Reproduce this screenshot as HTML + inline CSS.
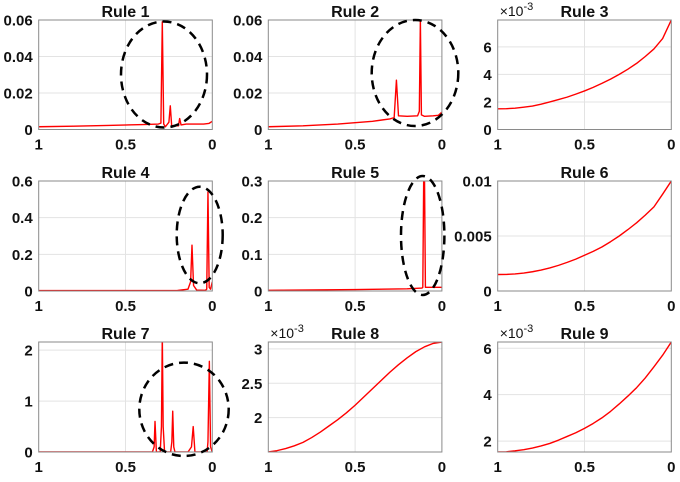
<!DOCTYPE html>
<html><head><meta charset="utf-8"><style>
body{margin:0;background:#fff}
svg{display:block;font-family:"Liberation Sans",Arial,sans-serif}
.tk{font-size:15px;font-weight:bold;fill:#111}
.tt{font-size:16px;font-weight:bold;fill:#111}
</style></head><body>
<svg id="fig" width="680" height="482" viewBox="0 0 680 482" xmlns="http://www.w3.org/2000/svg"></svg>
<script>
const xTicks=[1,0.5,0];
const xTickLabels=["1","0.5","0"];
const r1x=[1,.8,.6,.4,.31,.296,.288,.28,.27,.25,.242,.234,.22,.195,.188,.18,.15,.05,.02,0];
const r1y=[.0015,.0018,.0022,.0027,.003,.0035,.059,.003,.0015,.004,.013,.002,.002,.002,.006,.0025,.003,.003,.0033,.0045];
const r2x=[1,.8,.6,.4,.3,.275,.262,.25,.2,.14,.13,.124,.118,.1,.05,.02,0];
const r2y=[.0015,.002,.003,.0045,.0058,.0065,.027,.0075,.0072,.0075,.01,.06,.008,.0072,.0075,.0078,.0095];
const smoothX=[1,.95,.9,.85,.8,.75,.7,.65,.6,.55,.5,.45,.4,.35,.3,.25,.2,.15,.1,.05,0];
const r3y=[1.5,1.51,1.55,1.62,1.7,1.84,2.0,2.17,2.35,2.57,2.8,3.06,3.35,3.66,4.0,4.38,4.8,5.3,5.85,6.6,7.95];
const r4x=[1,.5,.2,.14,.125,.117,.108,.09,.04,.032,.025,.018,.01,0];
const r4y=[.002,.002,.003,.01,.05,.25,.03,.005,.004,.01,.54,.02,.01,.05];
const r5x=[1,.5,.2,.115,.11,.105,.1,.095,.05,0];
const r5y=[.002,.004,.006,.008,.01,.3,.3,.01,.01,.01];
const r6y=[1.5,1.51,1.55,1.63,1.75,1.9,2.1,2.33,2.6,2.9,3.25,3.6,4.0,4.48,5.0,5.58,6.2,6.9,7.65,8.8,10];
const r7x=[1,.5,.345,.335,.33,.322,.3,.293,.288,.283,.275,.24,.233,.228,.222,.215,.14,.12,.11,.1,.03,.025,.017,.01,0];
const r7y=[0,0,0,.1,.6,0,0,.5,2.3,.5,0,0,.2,.8,.1,0,0,.1,.5,0,0,.2,1.78,.1,0];
const r8y=[1.5,1.52,1.55,1.59,1.64,1.71,1.79,1.88,1.97,2.07,2.18,2.3,2.42,2.54,2.66,2.77,2.87,2.96,3.03,3.08,3.1];
const r9y=[1.53,1.54,1.58,1.63,1.7,1.79,1.9,2.04,2.2,2.36,2.55,2.76,3.0,3.28,3.6,3.94,4.3,4.72,5.2,5.7,6.27];

const NS="http://www.w3.org/2000/svg";
const svg=document.getElementById('fig');
const colsL=[38.7,268.3,497.7], W=173.6;
const rowsT=[20,181,342], rowsB=[129.5,291,452];
function mk(tag,attrs,parent){const e=document.createElementNS(NS,tag);for(const k in attrs)e.setAttribute(k,attrs[k]);(parent||svg).appendChild(e);return e;}
const panels=[
 {t:"Rule 1",xs:r1x,ys:r1y,yl:[0,0.06],yt:[0,.02,.04,.06],ytl:["0","0.02","0.04","0.06"],ell:[164,74.5,43,53]},
 {t:"Rule 2",xs:r2x,ys:r2y,yl:[0,0.06],yt:[0,.02,.04,.06],ytl:["0","0.02","0.04","0.06"],ell:[415,73,43.3,53]},
 {t:"Rule 3",xs:smoothX,ys:r3y,yl:[0,7.95],yt:[0,2,4,6],ytl:["0","2","4","6"],exp:true},
 {t:"Rule 4",xs:r4x,ys:r4y,yl:[0,0.6],yt:[0,.2,.4,.6],ytl:["0","0.2","0.4","0.6"],ell:[199.7,235,23,48.3]},
 {t:"Rule 5",xs:r5x,ys:r5y,yl:[0,0.3],yt:[0,.1,.2,.3],ytl:["0","0.1","0.2","0.3"],ell:[422.7,235.5,21.7,59.5]},
 {t:"Rule 6",xs:smoothX,ys:r6y,yl:[0,10],yt:[0,5,10],ytl:["0","0.005","0.01"]},
 {t:"Rule 7",xs:r7x,ys:r7y,yl:[0,2.16],yt:[0,1,2],ytl:["0","1","2"],ell:[184,409.3,44.7,46.7]},
 {t:"Rule 8",xs:smoothX,ys:r8y,yl:[1.5,3.1],yt:[2,2.5,3],ytl:["2","2.5","3"],exp:true},
 {t:"Rule 9",xs:smoothX,ys:r9y,yl:[1.53,6.27],yt:[2,4,6],ytl:["2","4","6"],exp:true}
];
panels.forEach((p,i)=>{
 const L=colsL[i%3],T=rowsT[Math.floor(i/3)],B=rowsB[Math.floor(i/3)],R=L+W;
 const g=mk('g',{});
 
 
 const sx=v=>L+(1-v)*W;
 const sy=v=>B-(v-p.yl[0])/(p.yl[1]-p.yl[0])*(B-T);
 mk('rect',{x:L,y:T,width:W,height:B-T,fill:'#fff'},g);
 xTicks.forEach((v,k)=>{
  if(k==1)mk('line',{x1:sx(v),x2:sx(v),y1:T,y2:B,stroke:'#e3e3e3','stroke-width':1},g);
  const tx=mk('text',{x:sx(v),y:B+20,'text-anchor':'middle',class:'tk'},g);tx.textContent=xTickLabels[k];
  
  
 });
 p.yt.forEach((v,k)=>{
  const y=sy(v);
  if(y>T+1&&y<B-1)mk('line',{x1:L,x2:R,y1:y,y2:y,stroke:'#e3e3e3','stroke-width':1},g);
  const ty=mk('text',{x:L-6,y:y+5.5,'text-anchor':'end',class:'tk'},g);ty.textContent=p.ytl[k];
  
  
 });
 const cp=mk('clipPath',{id:'c'+i},g);mk('rect',{x:L,y:T,width:W,height:B-T},cp);
 const d=p.xs.map((v,k)=>(k?'L':'M')+sx(v).toFixed(2)+','+sy(p.ys[k]).toFixed(2)).join('');
 const ln=mk('path',{d:d,fill:'none',stroke:'#ff0000','stroke-width':1.4,'stroke-linejoin':'round','clip-path':'url(#c'+i+')'},g);
 
 
 mk('rect',{x:L,y:T,width:W,height:B-T,fill:'none',stroke:'#8a8a8a','stroke-width':1},g);
 const tt=mk('text',{x:L+W/2,y:T-3,'text-anchor':'middle',class:'tt'},g);tt.textContent=p.t;
 
 
 if(p.exp){
  const ex=mk('text',{x:L+2,y:T-4,'font-size':'14px',fill:'#111'},g);
  ex.innerHTML='×10<tspan dy="-6" font-size="11">-3</tspan>';
  
  
 }
 if(p.ell){
  const el=mk('ellipse',{cx:p.ell[0],cy:p.ell[1],rx:p.ell[2],ry:p.ell[3],fill:'none',stroke:'#000','stroke-width':2.5,'stroke-dasharray':'9,6'},g);
  
  
 }
});
</script>
</body></html>
